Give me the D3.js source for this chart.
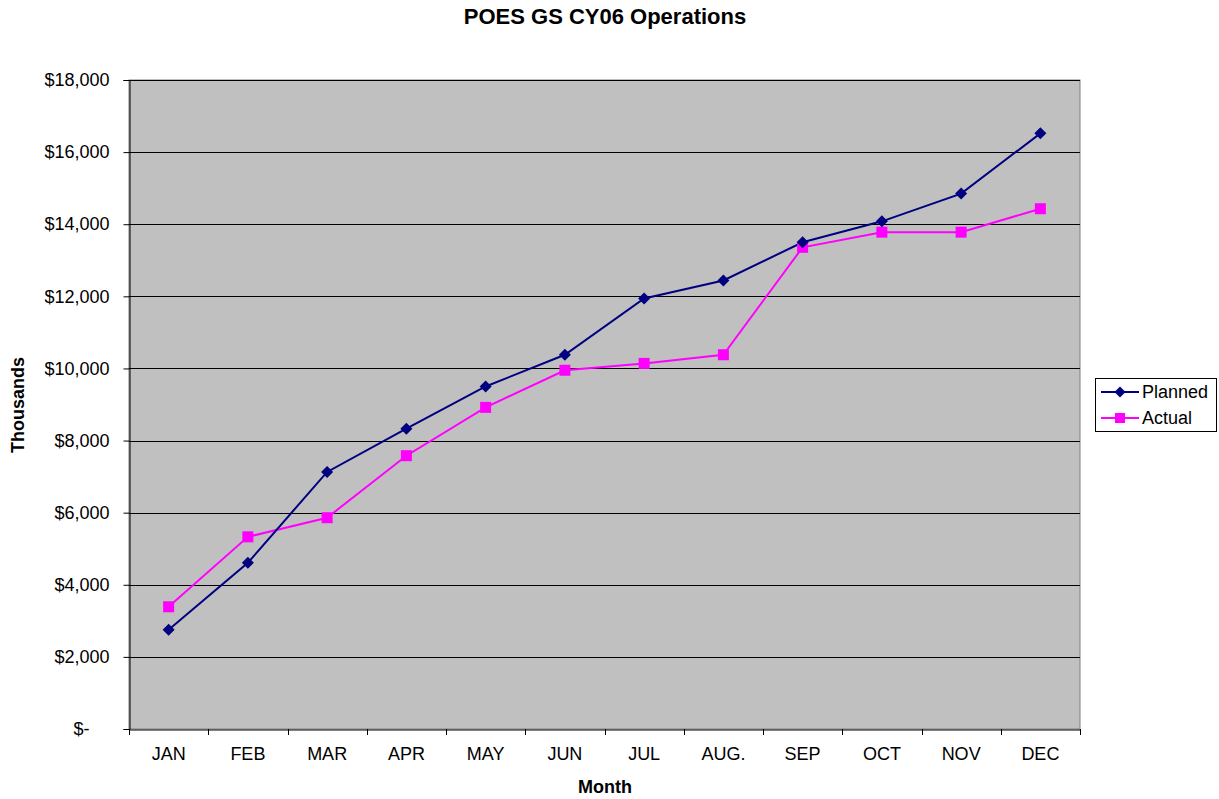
<!DOCTYPE html>
<html><head><meta charset="utf-8">
<script src="https://cdn.jsdelivr.net/npm/d3@7"></script>
<style>body{margin:0;background:#fff}svg{display:block}text{font-family:Arial,"Liberation Sans",sans-serif}</style>
</head><body><svg id="c" width="1219" height="799"></svg>
<script>
const months = ["JAN","FEB","MAR","APR","MAY","JUN","JUL","AUG.","SEP","OCT","NOV","DEC"];
const planned = [2750,4610,7130,8330,9500,10380,11940,12440,13500,14080,14850,16520];
const actual = [3390,5330,5860,7580,8920,9950,10140,10380,13360,13780,13780,14430];
const yTicks = [0,2000,4000,6000,8000,10000,12000,14000,16000,18000];

const svg = d3.select("#c");
const L=129, R=1080, T=80, B=729;
const x = d3.scaleBand().domain(months).range([L,R]);
const y = d3.scaleLinear().domain([0,18000]).range([B,T]);

svg.append("rect").attr("x",L).attr("y",T).attr("width",R-L).attr("height",B-T).attr("fill","#C0C0C0").attr("stroke","#808080").attr("stroke-width",1);

// gridlines
svg.append("g").selectAll("line").data(yTicks.filter(d=>d>0)).join("line")
 .attr("x1",L).attr("x2",R).attr("y1",d=>Math.round(y(d))+0.5).attr("y2",d=>Math.round(y(d))+0.5)
 .attr("stroke","#000").attr("stroke-width",1);

const fmt = d => d===0 ? "$-" : "$" + d3.format(",")(d);
const yAxis = svg.append("g").attr("transform",`translate(${L+0.5},0)`)
 .call(d3.axisLeft(y).tickValues(yTicks).tickFormat(fmt).tickSize(6).tickPadding(4));
yAxis.select(".domain").attr("stroke","#000");
yAxis.selectAll("text").attr("font-size",18).attr("fill","#000").attr("dx",-10)
 .attr("text-anchor","end").each(function(d){ if(d===0) d3.select(this).attr("dx",-30);});

const xAxis = svg.append("g").attr("transform",`translate(0,${B+0.5})`)
 .call(d3.axisBottom(x).tickSize(0).tickPadding(18));
xAxis.select(".domain").attr("stroke","#000");
xAxis.selectAll("text").attr("font-size",18).attr("fill","#000");
// band boundary ticks
svg.append("g").selectAll("line").data(d3.range(months.length+1)).join("line")
 .attr("x1",i=>Math.round(L+i*x.step())+0.5).attr("x2",i=>Math.round(L+i*x.step())+0.5)
 .attr("y1",B).attr("y2",B+6).attr("stroke","#000");

const cx = d => x(d)+x.bandwidth()/2;
const line = d3.line().x((d,i)=>cx(months[i])).y(d=>y(d));

svg.append("path").datum(actual).attr("d",line).attr("fill","none").attr("stroke","#FF00FF").attr("stroke-width",2);
svg.append("path").datum(planned).attr("d",line).attr("fill","none").attr("stroke","#000080").attr("stroke-width",2);

svg.append("g").selectAll("rect").data(actual).join("rect")
 .attr("x",(d,i)=>cx(months[i])-5.5).attr("y",d=>y(d)-5.5).attr("width",11).attr("height",11).attr("fill","#FF00FF");
svg.append("g").selectAll("path").data(planned).join("path")
 .attr("transform",(d,i)=>`translate(${cx(months[i])},${y(d)}) rotate(45)`)
 .attr("d",d3.symbol().type(d3.symbolSquare).size(72)).attr("fill","#000080");

// title
svg.append("text").attr("x",605).attr("y",24).attr("text-anchor","middle").attr("font-size",22).attr("font-weight","bold").text("POES GS CY06 Operations");
svg.append("text").attr("x",605).attr("y",793).attr("text-anchor","middle").attr("font-size",18).attr("font-weight","bold").text("Month");
svg.append("text").attr("transform","translate(24,405) rotate(-90)").attr("text-anchor","middle").attr("font-size",18).attr("font-weight","bold").text("Thousands");

// legend
const lg = svg.append("g");
lg.append("rect").attr("x",1095.5).attr("y",378.5).attr("width",121).attr("height",53).attr("fill","#fff").attr("stroke","#000");
const items = [{n:"Planned",c:"#000080",s:"d"},{n:"Actual",c:"#FF00FF",s:"s"}];
items.forEach((it,i)=>{
  const yy = 392 + i*26;
  lg.append("line").attr("x1",1101).attr("x2",1139).attr("y1",yy).attr("y2",yy).attr("stroke",it.c).attr("stroke-width",2);
  if(it.s==="d") lg.append("path").attr("transform",`translate(1120,${yy}) rotate(45)`).attr("d",d3.symbol().type(d3.symbolSquare).size(60)).attr("fill",it.c);
  else lg.append("rect").attr("x",1115).attr("y",yy-5).attr("width",10).attr("height",10).attr("fill",it.c);
  lg.append("text").attr("x",1142).attr("y",yy+6).attr("font-size",18).text(it.n);
});
</script></body></html>
